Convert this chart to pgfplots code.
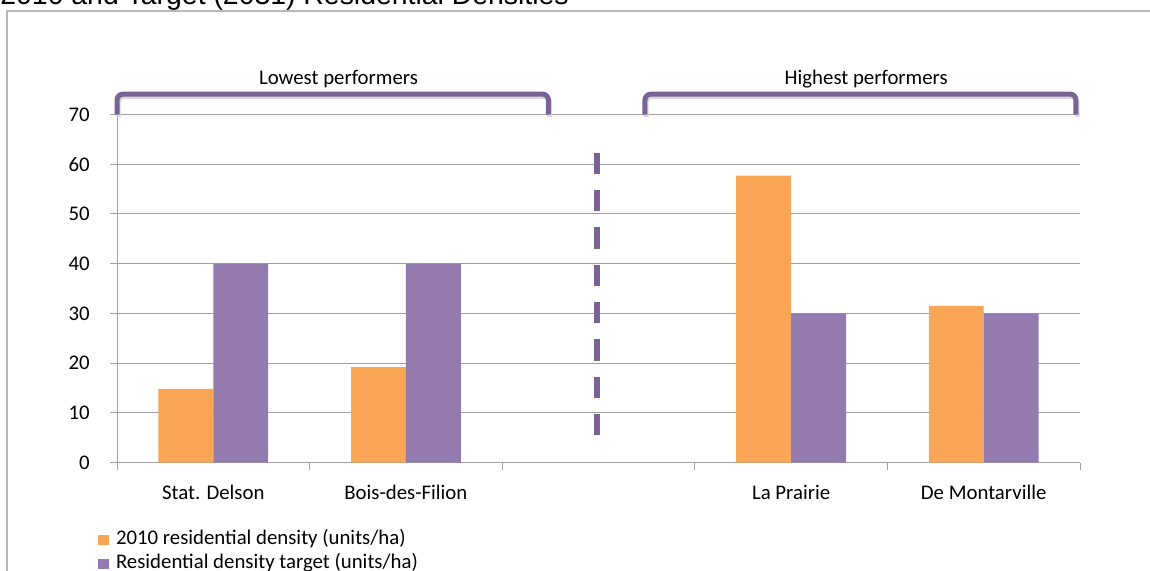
\documentclass[border=0pt]{standalone}
\usepackage{fontspec}
\setmainfont{Carlito}
\newfontfamily\titlefont{Liberation Sans}
\usepackage{pgfplots}
\usepackage{pgfplotstable}
\pgfplotsset{compat=1.18}

\definecolor{barorange}{HTML}{F8A656}
\definecolor{barpurple}{HTML}{937BB0}
\definecolor{brk}{HTML}{7A6196}
\definecolor{gridgray}{HTML}{A0A0A0}
\definecolor{boxgray}{HTML}{B8B8B8}

\newcommand{\lbl}{\fontsize{10.4}{12}\selectfont}

% 2010 density, by category position (2 is the empty gap)
\pgfplotstableread{
x y
0 14.8
1 19.2
3 57.7
4 31.5
}\actual

% 2031 target
\pgfplotstableread{
x y
0 40
1 40
3 30
4 30
}\target

\begin{document}
\begin{tikzpicture}
\useasboundingbox (0pt,0pt) rectangle (575pt,-285.5pt);
\clip (0pt,0pt) rectangle (575pt,-285.5pt);
\draw[boxgray, line width=0.6pt] (3.5pt,-400pt) |- (700pt,-5.5pt);
\node[anchor=base west, inner sep=0pt, font=\titlefont\fontsize{14.2}{16}\selectfont]
  at (0pt,-2.5pt) {2010 and Target (2031) Residential Densities};

\begin{axis}[
  at={(58.5pt,-231.25pt)}, anchor=south west,
  scale only axis, width=481.5pt, height=174pt,
  xmin=-0.5, xmax=4.5, ymin=0, ymax=70,
  ybar=0pt, bar width=0.285,
  axis x line*=bottom, axis y line*=left,
  axis line style={gridgray, line width=0.5pt},
  xtick={0,...,4},
  xticklabels={Stat. Delson, Bois-des-Filion, {}, La Prairie, De Montarville},
  minor xtick={-0.5,0.5,...,4.5},
  ytick={0,10,...,70},
  ymajorgrids, grid style={gridgray, line width=0.5pt},
  tick align=outside,
  major tick length=3.5pt, minor tick length=3.5pt,
  major x tick style={draw=none},
  minor x tick style={gridgray, line width=0.5pt},
  ytick style={gridgray, line width=0.5pt},
  tick label style={font=\lbl},
  xticklabel style={yshift=-4.5pt, text height=7.2pt, text depth=2.3pt},
  yticklabel style={xshift=-6.6pt},
  /pgf/number format/assume math mode=true,
  clip=false,
  legend style={at={(axis description cs:-0.0197,-0.195)}, anchor=north west,
    draw=none, fill=none, inner sep=0pt, outer sep=0pt,
    row sep=2.5pt, column sep=3.5pt, font=\lbl,
    nodes={inner sep=0pt, text height=7.2pt, text depth=2.3pt}},
  legend cell align=left,
  legend image code/.code={\fill[#1] (0pt,-2.5pt) rectangle (5.5pt,2.5pt);},
]
\addplot[fill=barorange, draw=none] table[x=x, y=y] {\actual};
\addlegendentry{2010 residential density (units/ha)}
\addplot[fill=barpurple, draw=none] table[x=x, y=y] {\target};
\addlegendentry{Residential density target (units/ha)}

% brackets and divider
\begin{scope}[transform canvas={xshift=0.6pt, yshift=-1.2pt}]
\draw[black!15, line width=2.5pt, rounded corners=3pt]
  (axis cs:-0.5,70) -- (axis cs:-0.5,74.1) -- (axis cs:1.74,74.1) -- (axis cs:1.74,70);
\draw[black!15, line width=2.5pt, rounded corners=3pt]
  (axis cs:2.241,70) -- (axis cs:2.241,74.1) -- (axis cs:4.479,74.1) -- (axis cs:4.479,70);
\end{scope}
\draw[brk, line width=2.5pt, rounded corners=3pt]
  (axis cs:-0.5,70) -- (axis cs:-0.5,74.1) -- (axis cs:1.74,74.1) -- (axis cs:1.74,70);
\draw[brk, line width=2.5pt, rounded corners=3pt]
  (axis cs:2.241,70) -- (axis cs:2.241,74.1) -- (axis cs:4.479,74.1) -- (axis cs:4.479,70);
\draw[brk, line width=2.8pt, dash pattern=on 10.65pt off 8pt]
  (axis cs:1.991,62.3) -- (axis cs:1.991,5.4);
\node[font=\lbl] at (axis cs:0.65,77.15) {Lowest performers};
\node[font=\lbl] at (axis cs:3.39,77.15) {Highest performers};
\end{axis}
\end{tikzpicture}
\end{document}
